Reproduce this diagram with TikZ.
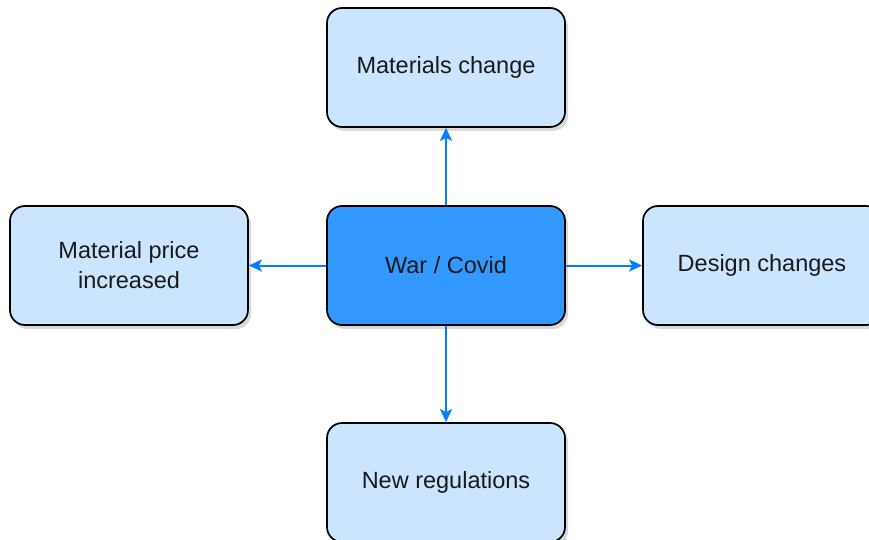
\documentclass[tikz,border=0pt]{standalone}
\usepackage{fontspec}
\setmainfont{Liberation Sans}
\usetikzlibrary{arrows.meta,shadows}
\definecolor{lightbox}{HTML}{CCE5FF}
\definecolor{mainbox}{HTML}{3399FF}
\definecolor{arrowblue}{HTML}{007FFF}
\tikzset{
  box/.style={draw=black, line width=1.7pt, rounded corners=15pt, fill=lightbox,
    minimum width=238pt, minimum height=119pt, align=center,
    font=\fontsize{23.5}{30}\selectfont, text=black!90,
    drop shadow={shadow xshift=3pt, shadow yshift=-4pt, fill=black!60, opacity=0.25}},
  mainstyle/.style={box, fill=mainbox},
  conn/.style={draw=arrowblue, line width=2pt, -{Stealth[length=13pt,width=12pt,inset=3pt]}}
}
\begin{document}
\begin{tikzpicture}[x=1pt,y=-1pt]
\useasboundingbox (0,0) rectangle (869,540);
\clip (0,0) rectangle (869,540);
\node[mainstyle] (c) at (446,265.5) {War / Covid};
\node[box] (t) at (446,67.5) {Materials change};
\node[box] (l) at (129,265.5) {Material price\\increased};
\node[box] (r) at (762,265.5) {Design changes};
\node[box] (b) at (446,482.5) {New regulations};
\draw[conn] (c.north) -- (t.south);
\draw[conn] (c.west) -- (l.east);
\draw[conn] (c.east) -- (r.west);
\draw[conn] (c.south) -- (b.north);
\end{tikzpicture}
\end{document}
